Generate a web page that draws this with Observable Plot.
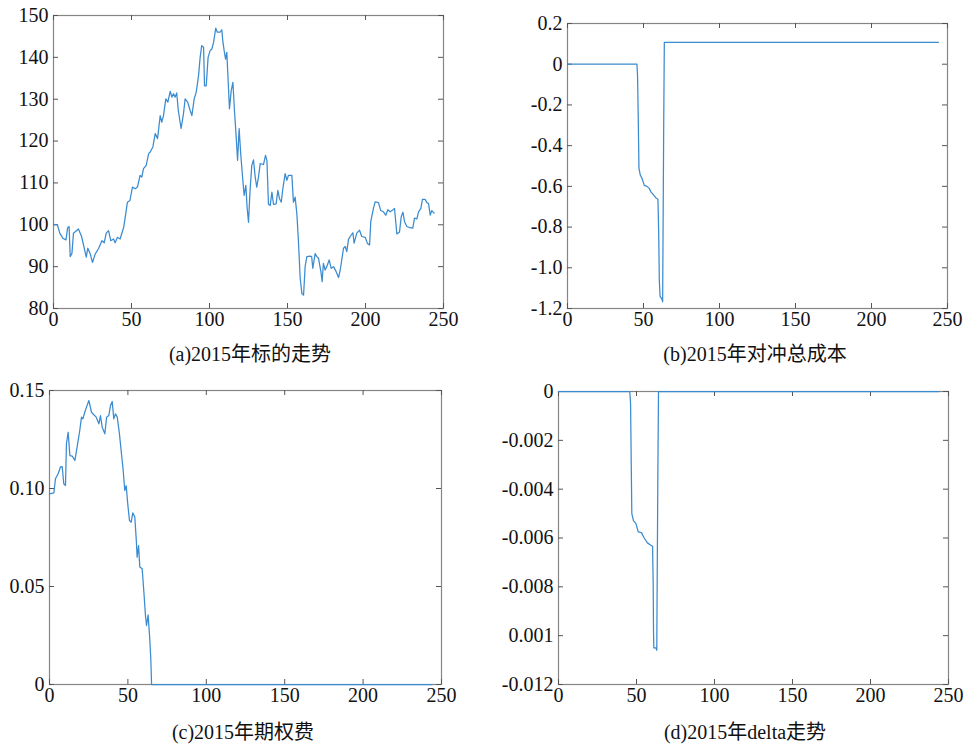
<!DOCTYPE html>
<html>
<head>
<meta charset="utf-8">
<script src="https://cdn.jsdelivr.net/npm/d3@7"></script>
<script src="https://cdn.jsdelivr.net/npm/@observablehq/plot@0.6"></script>
<style>
  html, body { margin: 0; padding: 0; background: #fff; }
  #root { position: relative; width: 970px; height: 744px; background: #fff; overflow: hidden; }
  .panel { position: absolute; }
  .cap { position: absolute; transform: translate(-50%, -50%); white-space: nowrap;
         font-family: "Liberation Serif", "Noto Sans CJK SC", serif;
         font-size: 20px; color: #111; }
  svg text { font-family: "Liberation Serif", serif !important; }
</style>
</head>
<body>
<div id="root"></div>
<script>
// ---------- data ----------
const xTicks = [0, 50, 100, 150, 200, 250];

// (a) underlying price, [day, price]
const priceSeries = [[0,100.1],[2.5,100],[4,98],[6,96.8],[8,96.4],[9,99.2],[10,99.6],[10.7,92.4],[11.8,93.1],[12.8,98],[16,99],[18,97.2],[21,92.3],[22,94.4],[23.5,93.1],[25,91],[26.7,93],[29,94.4],[31,96.2],[32.5,95.7],[33.8,98],[35.3,98.6],[36.7,96.2],[38.5,96.6],[39.5,95.7],[41,97],[42.7,96.6],[45,99.4],[47.4,105.4],[49,105.8],[50.6,109],[52.4,108.6],[53.8,109],[55.5,111.8],[56.6,111.4],[57.7,113.4],[59.4,114.2],[61,117],[62,117.4],[63.7,118.6],[65.2,121.8],[66.2,121],[66.7,120.6],[68.4,126.1],[69.4,124.5],[70.5,126.1],[72,130.1],[73.3,129.3],[74.8,131.9],[75.9,130.5],[76.9,131.3],[78,130.5],[79,131.5],[80,127.3],[81.8,123],[83.3,126.5],[84.4,130.1],[86,129.3],[87.6,127.3],[88.7,126.1],[90.2,130.1],[91.5,131.7],[93,135.7],[94,140],[95,142.8],[96.2,142.4],[96.8,133.2],[97.9,133.2],[99.1,140],[100.4,141.6],[101.5,142],[102.6,143.6],[104,147],[105,146],[106.8,146],[107.9,146.6],[108.5,144],[109.4,141.6],[110.3,139.6],[111.1,141.2],[112.8,127.7],[113.9,132],[115,134],[116,127.3],[117.1,121],[118,115.4],[119,123],[120,117],[121.2,111.4],[122.2,107],[123.3,109.4],[124.1,104.2],[125,100.6],[126,108.2],[127.1,114.2],[128.2,115.5],[129.3,111.4],[130.3,109],[131.4,111.4],[132.5,114.6],[134.6,114.4],[135.9,116.6],[136.8,115.4],[137.8,104.9],[138.9,104.6],[140,107.8],[141,104.9],[142.7,105],[143.8,108.2],[144.9,106.2],[146,105.4],[147,108.6],[148.5,112.2],[149.6,110.6],[150.6,111.8],[152.8,111.8],[153.8,105.4],[154.9,106.6],[156,102.6],[157,96.2],[158.1,87.4],[159.2,83.6],[160.3,83.2],[161.3,90],[162.4,92.4],[164.5,92.5],[165.5,92.4],[166.2,89.6],[167.7,93.1],[168.8,92.4],[169.9,92],[171.4,88.8],[172.2,86.4],[173,90.8],[174.1,89.2],[175.2,90],[176.7,91.6],[178,89.6],[179.5,90],[181.2,88.8],[182.7,87.4],[183.8,89.2],[185.9,94.4],[187,94.8],[188,93.6],[189.1,96.5],[190.2,97.2],[191.9,98.1],[192.7,95.6],[194.4,98],[196.2,98.7],[197.6,97.2],[199.8,97],[201.3,95.5],[202.6,95.2],[203.4,100.8],[205.1,103.9],[206.2,105.5],[208.3,105.3],[209.8,103.4],[211.5,103.1],[213,102.3],[214.3,103.6],[215.8,103.1],[217.3,103.5],[218.6,103.9],[220.1,97.8],[221.8,98.3],[222.9,101.9],[224,103],[225,100.8],[226.5,99.6],[228.6,99.3],[230.3,99.2],[231.4,101.6],[232.9,101.4],[234,103.1],[235.5,103.9],[236.5,106.1],[238.2,106.1],[239.3,105.3],[240.4,105.1],[241.5,102.3],[242.5,103.4],[244,102.8]];
const priceTicks = [80, 90, 100, 110, 120, 130, 140, 150];
const priceLabels = ["80", "90", "100", "110", "120", "130", "140", "150"];

// (b) total hedging cost, [day, cost]
const costSeries = [[0,0],[45.7,0],[46.1,-0.06],[46.6,-0.29],[47,-0.51],[47.9,-0.545],[49,-0.56],[50.5,-0.595],[52.3,-0.6],[53.8,-0.61],[54.9,-0.627],[56.7,-0.643],[58.2,-0.657],[59.5,-0.663],[60,-0.83],[60.4,-1.06],[60.9,-1.14],[62.2,-1.155],[62.6,-1.167],[62.8,-0.9],[63.3,-0.29],[63.7,0.107],[244,0.107]];
const costTicks = [-1.2, -1.0, -0.8, -0.6, -0.4, -0.2, 0, 0.2];
const costLabels = ["-1.2", "-1.0", "-0.8", "-0.6", "-0.4", "-0.2", "0", "0.2"];

// (c) option premium, [day, premium]
const premiumSeries = [[0,0.0973],[2.8,0.0978],[3.8,0.105],[5.5,0.1075],[7,0.111],[8.1,0.1112],[9.1,0.1024],[10.2,0.1015],[10.8,0.1228],[11.9,0.1287],[13,0.1168],[14.5,0.1165],[16.2,0.1143],[17.6,0.1211],[19.3,0.1296],[20.4,0.1364],[21.3,0.1355],[22.5,0.1389],[23.6,0.1415],[25.1,0.1449],[26.8,0.1389],[28.3,0.1376],[29.8,0.1364],[31.5,0.133],[32.5,0.1372],[33.6,0.1313],[35.3,0.1279],[36.4,0.1364],[37.8,0.1372],[38.9,0.1423],[40,0.1444],[41,0.1355],[42.1,0.1381],[43.2,0.1364],[44.6,0.1279],[45.9,0.1177],[47,0.1092],[48,0.099],[48.9,0.1015],[50,0.0913],[51,0.0837],[52.1,0.0828],[53.1,0.0876],[54.4,0.0854],[55.3,0.0743],[55.9,0.065],[56.8,0.0709],[57.6,0.0599],[59.1,0.059],[60.2,0.0471],[61.2,0.0352],[61.9,0.0301],[62.9,0.0355],[63.8,0.025],[64.6,0.0131],[65.1,0],[244,0]];
const premiumTicks = [0, 0.05, 0.10, 0.15];
const premiumLabels = ["0", "0.05", "0.10", "0.15"];

// (d) delta, [day, delta]
const deltaSeries = [[0,0],[45.7,0],[46.2,-0.0005],[46.6,-0.0028],[47,-0.005],[48.1,-0.0053],[49.6,-0.0054],[51.1,-0.00575],[53.2,-0.00578],[54.9,-0.006],[57,-0.0062],[59.2,-0.0063],[60.3,-0.00634],[60.7,-0.0079],[60.9,-0.0098],[61.1,-0.0105],[62.4,-0.0105],[63,-0.0106],[63.2,-0.0084],[63.7,-0.0033],[64.1,0],[244,0]];
const deltaTicks = [-0.012, -0.010, -0.008, -0.006, -0.004, -0.002, 0];
const deltaLabels = ["-0.012", "0.001", "-0.008", "-0.006", "-0.004", "-0.002", "0"];

const captions = ["(a)2015年标的走势", "(b)2015年对冲总成本", "(c)2015年期权费", "(d)2015年delta走势"];

// ---------- drawing ----------
const LINE = "#3b8bd0";
const FRAME = "#858585";
const TICK = "#555";
const FONT = "'Liberation Serif', serif";

function panel(cfg) {
  const {series, yDomain, yTicks, yLabels, left, top, width, height, m} = cfg;
  const fh = height - m.top - m.bottom;
  const fw = width - m.left - m.right;
  const lab = new Map(yTicks.map((t, i) => [t, yLabels[i]]));
  const tl = 5;
  const chart = Plot.plot({
    width, height,
    marginLeft: m.left, marginRight: m.right, marginTop: m.top, marginBottom: m.bottom,
    style: {fontFamily: FONT, fontSize: "20px", color: "#111", background: "#fff", overflow: "visible"},
    x: {domain: [0, 250]},
    y: {domain: yDomain},
    marks: [
      Plot.frame({stroke: FRAME, strokeWidth: 1.2}),
      Plot.tickX(xTicks, {x: d => d, stroke: TICK, insetTop: fh - tl}),
      Plot.tickX(xTicks, {x: d => d, stroke: TICK, insetBottom: fh - tl}),
      Plot.tickY(yTicks, {y: d => d, stroke: TICK, insetRight: fw - tl}),
      Plot.tickY(yTicks, {y: d => d, stroke: TICK, insetLeft: fw - tl}),
      Plot.axisX(xTicks, {tickSize: 0, tickPadding: 3, label: null, tickFormat: d => String(d), fill: "#111", fontSize: 20, fontFamily: FONT}),
      Plot.axisY(yTicks, {tickSize: 0, tickPadding: 5, label: null, tickFormat: d => lab.get(d), fill: "#111", fontSize: 20, fontFamily: FONT}),
      Plot.line(series, {x: d => d[0], y: d => d[1], stroke: LINE, strokeWidth: 1.25})
    ]
  });
  chart.classList.add("panel");
  chart.style.left = left + "px";
  chart.style.top = top + "px";
  return chart;
}

const root = document.getElementById("root");
root.appendChild(panel({series: priceSeries, yDomain: [80, 150], yTicks: priceTicks, yLabels: priceLabels,
  left: 0, top: 0, width: 470, height: 340, m: {left: 53, right: 27, top: 15, bottom: 32}}));
root.appendChild(panel({series: costSeries, yDomain: [-1.2, 0.2], yTicks: costTicks, yLabels: costLabels,
  left: 485, top: 0, width: 485, height: 340, m: {left: 82, right: 23, top: 23, bottom: 32}}));
root.appendChild(panel({series: premiumSeries, yDomain: [0, 0.15], yTicks: premiumTicks, yLabels: premiumLabels,
  left: 0, top: 370, width: 470, height: 344, m: {left: 49, right: 29, top: 20, bottom: 30}}));
root.appendChild(panel({series: deltaSeries, yDomain: [-0.012, 0], yTicks: deltaTicks, yLabels: deltaLabels,
  left: 485, top: 370, width: 485, height: 344, m: {left: 73, right: 22, top: 21, bottom: 30}}));

const capPos = [[250, 352], [755, 352], [243, 730], [745, 730]];
captions.forEach((c, i) => {
  const d = document.createElement("div");
  d.className = "cap";
  d.textContent = c;
  d.style.left = capPos[i][0] + "px";
  d.style.top = capPos[i][1] + "px";
  root.appendChild(d);
});
</script>
</body>
</html>
